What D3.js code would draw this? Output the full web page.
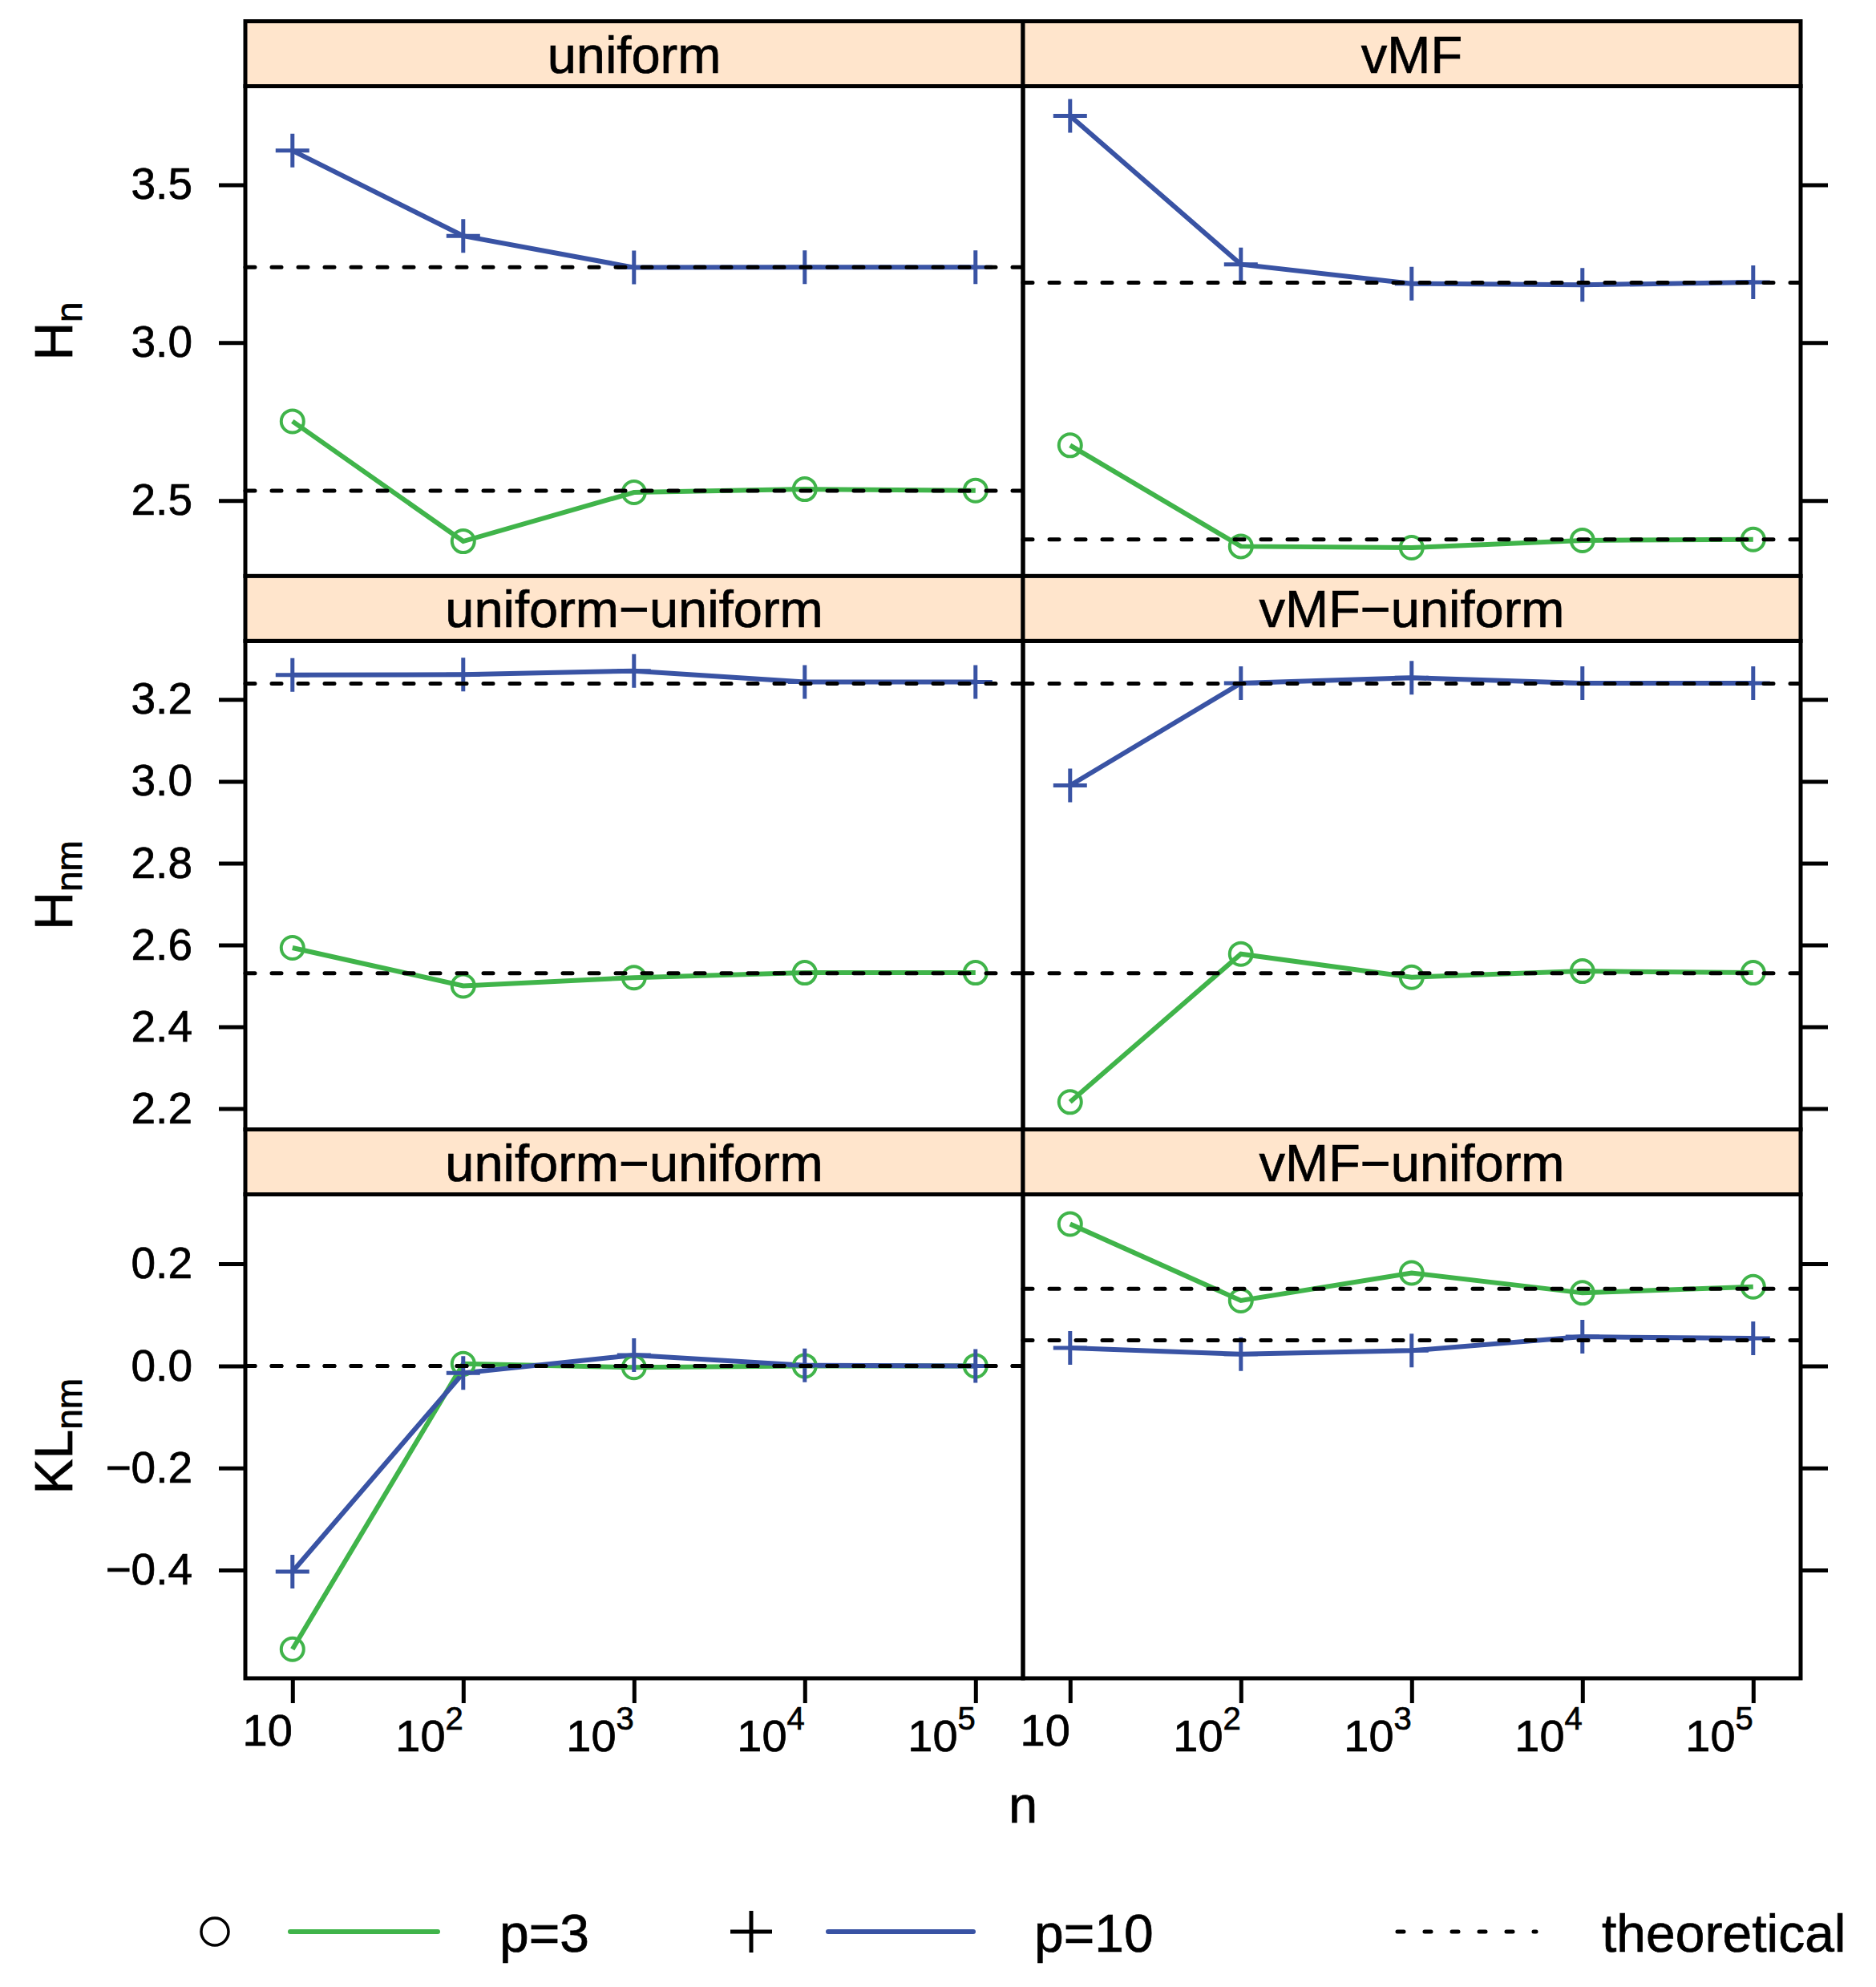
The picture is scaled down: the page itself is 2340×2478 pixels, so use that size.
<!DOCTYPE html>
<html>
<head>
<meta charset="utf-8">
<script src="https://cdn.jsdelivr.net/npm/d3@7"></script>
<style>
  body { margin: 0; background: #fff; }
  svg text { font-family: 'Liberation Sans', Arial, Helvetica, sans-serif; fill: #000; stroke: #000; stroke-width: 0.7px; }
</style>
</head>
<body>
<svg id="chart" width="2340" height="2478"></svg>
<script>
// ---- data ----
var nValues = [10, 100, 1000, 10000, 100000];
var xTickExponents = ['', '2', '3', '4', '5'];
var stripTitles = [
  ['uniform', 'vMF'],
  ['uniform\u2212uniform', 'vMF\u2212uniform'],
  ['uniform\u2212uniform', 'vMF\u2212uniform']
];
var rowTitles = [['H', 'n'], ['H', 'nm'], ['KL', 'nm']];
var yTicksHn = [2.5, 3.0, 3.5];
var yTicksHnm = [2.2, 2.4, 2.6, 2.8, 3.0, 3.2];
var yTicksKl = [-0.4, -0.2, 0.0, 0.2];
var legendLabels = ['p=3', 'p=10', 'theoretical'];

// H_n
var hnUniformP3 = [2.751, 2.371, 2.526, 2.536, 2.532];
var hnUniformP10 = [3.608, 3.338, 3.238, 3.239, 3.239];
var hnVmfP3 = [2.675, 2.355, 2.351, 2.374, 2.377];
var hnVmfP10 = [3.718, 3.248, 3.187, 3.183, 3.191];
// H_nm
var hnmUnifP3 = [2.593, 2.500, 2.520, 2.532, 2.532];
var hnmUnifP10 = [3.260, 3.261, 3.270, 3.243, 3.243];
var hnmVmfP3 = [2.216, 2.578, 2.521, 2.536, 2.532];
var hnmVmfP10 = [2.990, 3.240, 3.253, 3.240, 3.240];
// KL_nm
var klUnifP3 = [-0.555, 0.004, -0.003, 0.000, 0.000];
var klUnifP10 = [-0.403, -0.014, 0.021, 0.001, 0.000];
var klVmfP3 = [0.278, 0.128, 0.182, 0.143, 0.155];
var klVmfP10 = [0.035, 0.023, 0.030, 0.057, 0.054];
// theoretical values [p=3, p=10]
var theoryHnUniform = [2.531, 3.239];
var theoryHnVmf = [2.377, 3.190];
var theoryHnm = [2.531, 3.239];
var theoryKlUnif = [0, 0];
var theoryKlVmf = [0.151, 0.050];

// ---- layout ----
var colX = [306, 1276], panelW = 970;
var stripTop = [26.5, 718.4, 1408.5], stripH = 81;
var panelBottom = [718.4, 1408.5, 2093];
var yDomains = [[2.261, 3.812], [2.149, 3.343], [-0.612, 0.336]];
var yTicks = [yTicksHn, yTicksHnm, yTicksKl];
var green = '#40b44a', blue = '#3953a4', stripFill = '#ffe5cc';

var panels = [
  {row: 0, col: 0, p3: hnUniformP3, p10: hnUniformP10, theory: theoryHnUniform},
  {row: 0, col: 1, p3: hnVmfP3, p10: hnVmfP10, theory: theoryHnVmf},
  {row: 1, col: 0, p3: hnmUnifP3, p10: hnmUnifP10, theory: theoryHnm},
  {row: 1, col: 1, p3: hnmVmfP3, p10: hnmVmfP10, theory: theoryHnm},
  {row: 2, col: 0, p3: klUnifP3, p10: klUnifP10, theory: theoryKlUnif},
  {row: 2, col: 1, p3: klVmfP3, p10: klVmfP10, theory: theoryKlVmf}
];

var svg = d3.select('#chart');
svg.append('rect').attr('width', 2340).attr('height', 2478).attr('fill', '#fff');

var x = d3.scaleLog()
  .domain([Math.pow(10, 0.724), Math.pow(10, 5.278)])
  .range([0, panelW]);

function yScale(r) {
  return d3.scaleLinear()
    .domain(yDomains[r])
    .range([panelBottom[r], stripTop[r] + stripH]);
}

var plusPath = function(h) {
  return 'M' + (-h) + ',0H' + h + 'M0,' + (-h) + 'V' + h;
};

panels.forEach(function(p) {
  var y = yScale(p.row),
    top = stripTop[p.row] + stripH,
    g = svg.append('g').attr('transform', 'translate(' + colX[p.col] + ',0)');

  // strip
  g.append('rect')
    .attr('x', 0)
    .attr('y', stripTop[p.row])
    .attr('width', panelW)
    .attr('height', stripH)
    .attr('fill', stripFill);
  g.append('text')
    .attr('x', panelW / 2)
    .attr('y', stripTop[p.row] + 64)
    .attr('text-anchor', 'middle')
    .style('font-size', '65px')
    .text(stripTitles[p.row][p.col]);

  var line = d3.line()
    .x(function(d, i) { return x(nValues[i]); })
    .y(function(d) { return y(d); });

  g.append('path')
    .datum(p.p3)
    .attr('d', line)
    .attr('fill', 'none')
    .attr('stroke', green)
    .attr('stroke-width', 6);
  g.append('path')
    .datum(p.p10)
    .attr('d', line)
    .attr('fill', 'none')
    .attr('stroke', blue)
    .attr('stroke-width', 6);

  g.selectAll('circle.pt')
    .data(p.p3)
    .enter().append('circle')
    .attr('class', 'pt')
    .attr('cx', function(d, i) { return x(nValues[i]); })
    .attr('cy', function(d) { return y(d); })
    .attr('r', 14)
    .attr('fill', 'none')
    .attr('stroke', green)
    .attr('stroke-width', 4);
  g.selectAll('path.plus')
    .data(p.p10)
    .enter().append('path')
    .attr('class', 'plus')
    .attr('transform', function(d, i) { return 'translate(' + x(nValues[i]) + ',' + y(d) + ')'; })
    .attr('d', plusPath(21))
    .attr('stroke', blue)
    .attr('stroke-width', 5);

  // theoretical reference lines
  g.selectAll('line.theory')
    .data(p.theory)
    .enter().append('line')
    .attr('class', 'theory')
    .attr('x1', 0)
    .attr('x2', panelW)
    .attr('y1', function(d) { return y(d); })
    .attr('y2', function(d) { return y(d); })
    .attr('stroke', '#000')
    .attr('stroke-width', 5)
    .attr('stroke-linecap', 'round')
    .attr('stroke-dasharray', '12,21');

  // borders
  g.append('rect')
    .attr('x', 0)
    .attr('y', stripTop[p.row])
    .attr('width', panelW)
    .attr('height', stripH)
    .attr('fill', 'none')
    .attr('stroke', '#000')
    .attr('stroke-width', 5);
  g.append('rect')
    .attr('x', 0)
    .attr('y', top)
    .attr('width', panelW)
    .attr('height', panelBottom[p.row] - top)
    .attr('fill', 'none')
    .attr('stroke', '#000')
    .attr('stroke-width', 5);
});

// y axes: labels on left, ticks only on right
stripTop.forEach(function(st, r) {
  var y = yScale(r);
  var left = svg.append('g')
    .attr('transform', 'translate(' + colX[0] + ',0)')
    .call(d3.axisLeft(y).tickValues(yTicks[r]).tickSize(33).tickPadding(33).tickFormat(d3.format('.1f')));
  left.select('.domain').remove();
  left.selectAll('.tick line').attr('stroke', '#000').attr('stroke-width', 5);
  left.selectAll('.tick text').style('font-size', '55px').attr('fill', '#000');

  var right = svg.append('g')
    .attr('transform', 'translate(' + (colX[1] + panelW) + ',0)')
    .call(d3.axisRight(y).tickValues(yTicks[r]).tickSize(34).tickFormat(''));
  right.select('.domain').remove();
  right.selectAll('.tick line').attr('stroke', '#000').attr('stroke-width', 5);

  var cy = (st + stripH + panelBottom[r]) / 2;
  var title = svg.append('text')
    .attr('transform', 'translate(90,' + cy + ') rotate(-90)')
    .attr('text-anchor', 'middle')
    .style('font-size', '66px');
  title.append('tspan').text(rowTitles[r][0]);
  title.append('tspan').attr('dy', 12).style('font-size', '46px').text(rowTitles[r][1]);
});

// bottom x axes
colX.forEach(function(cx) {
  var ax = svg.append('g')
    .attr('transform', 'translate(' + cx + ',' + panelBottom[2] + ')')
    .call(d3.axisBottom(x).tickValues(nValues).tickSize(31).tickFormat(''));
  ax.select('.domain').remove();
  ax.selectAll('.tick line').attr('stroke', '#000').attr('stroke-width', 5);
  ax.selectAll('.tick text').remove();

  nValues.forEach(function(n, i) {
    var t = ax.append('text')
      .attr('x', x(n))
      .attr('y', i === 0 ? 84 : 91)
      .attr('text-anchor', 'end')
      .style('font-size', '56px');
    t.append('tspan').text('10');
    if (xTickExponents[i]) {
      t.append('tspan').attr('dy', -27).style('font-size', '40px').text(xTickExponents[i]);
    }
  });
});

svg.append('text')
  .attr('x', colX[1])
  .attr('y', 2273)
  .attr('text-anchor', 'middle')
  .style('font-size', '65px')
  .text('n');

// legend
var legY = 2409, legBase = 2434;
var leg = svg.append('g');
leg.append('circle')
  .attr('cx', 268).attr('cy', legY).attr('r', 17)
  .attr('fill', 'none').attr('stroke', '#000').attr('stroke-width', 3.5);
leg.append('line')
  .attr('x1', 362).attr('x2', 546).attr('y1', legY).attr('y2', legY)
  .attr('stroke', green).attr('stroke-width', 6).attr('stroke-linecap', 'round');
leg.append('text').attr('x', 623).attr('y', legBase).style('font-size', '66px').text(legendLabels[0]);

leg.append('path')
  .attr('transform', 'translate(937,' + legY + ')')
  .attr('d', plusPath(26))
  .attr('stroke', '#000').attr('stroke-width', 5);
leg.append('line')
  .attr('x1', 1033).attr('x2', 1214).attr('y1', legY).attr('y2', legY)
  .attr('stroke', blue).attr('stroke-width', 6).attr('stroke-linecap', 'round');
leg.append('text').attr('x', 1290).attr('y', legBase).style('font-size', '66px').text(legendLabels[1]);

leg.append('line')
  .attr('x1', 1743).attr('x2', 1916).attr('y1', legY).attr('y2', legY)
  .attr('stroke', '#000').attr('stroke-width', 5).attr('stroke-linecap', 'round')
  .attr('stroke-dasharray', '8,26');
leg.append('text').attr('x', 1998).attr('y', legBase).style('font-size', '66px').text(legendLabels[2]);
</script>
</body>
</html>
